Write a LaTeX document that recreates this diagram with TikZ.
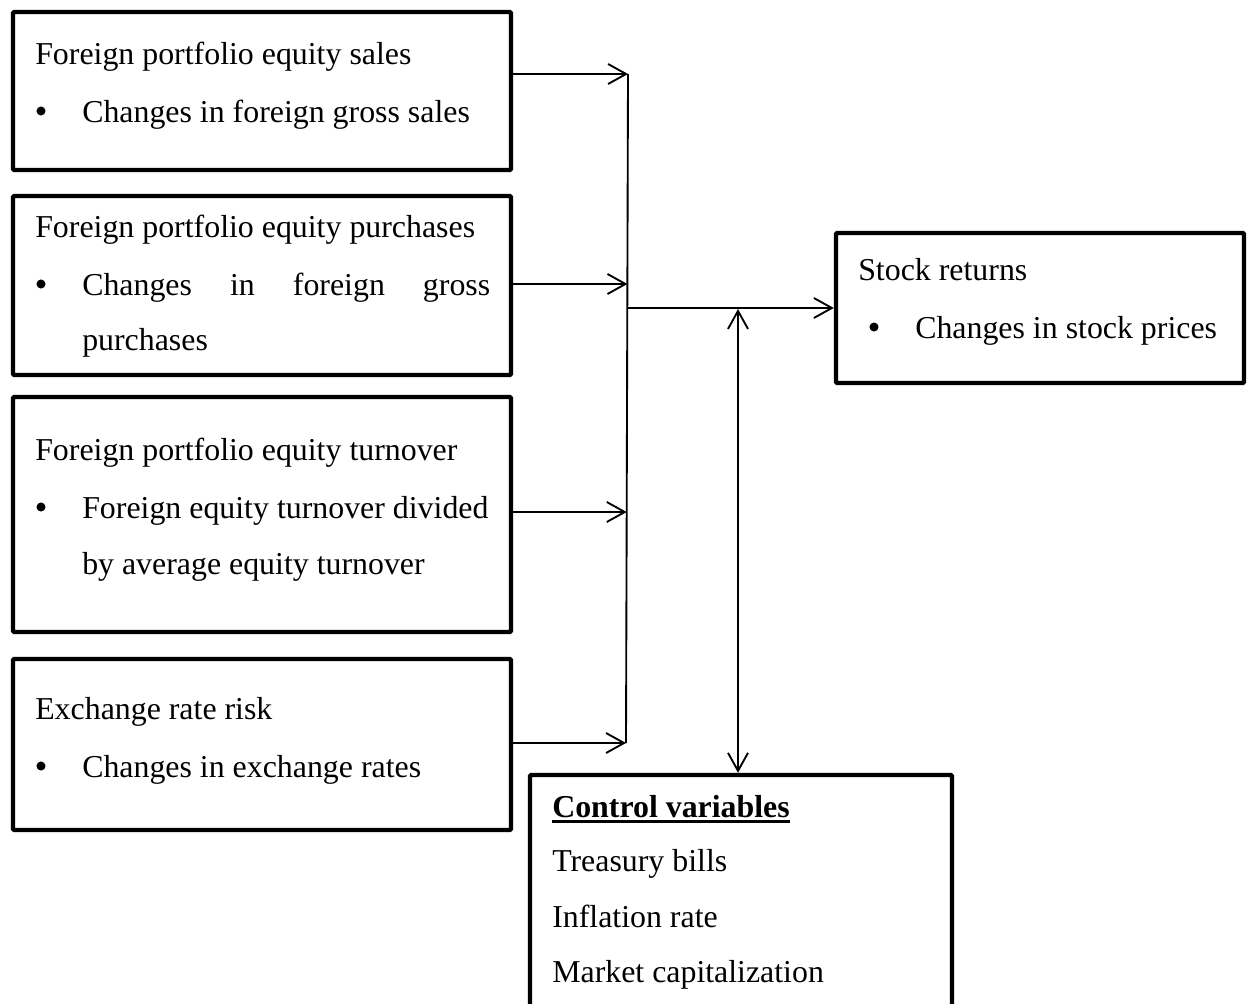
\documentclass[tikz,border=0pt]{standalone}
\usepackage{fontspec}
\setmainfont{Liberation Serif}
\usetikzlibrary{arrows.meta,fit}
\newcommand\ctlul[1]{\setbox0\hbox{#1}\rlap{\rule[-4.2pt]{\wd0}{1.6pt}}\box0}
\tikzset{
  box/.style={draw, line width=3.3pt, rounded corners=1pt, inner sep=0pt, rectangle},
  txt/.style={anchor=base west, inner sep=0pt, font=\fontsize{23.9}{43.5}\selectfont},
  bul/.style={circle, fill, inner sep=0pt, minimum size=6.8pt},
  conn/.style={line width=1.4pt},
  arr/.style={line width=1.4pt, -{Straight Barb[length=13.5pt,width=15pt,line width=1.4pt]}},
  darr/.style={line width=1.4pt, {Straight Barb[length=13.5pt,width=15pt,line width=1.4pt]}-{Straight Barb[length=13.5pt,width=15pt,line width=1.4pt]}}
}
\begin{document}
\begin{tikzpicture}[x=0.75pt,y=-0.75pt]
\useasboundingbox (0,0) rectangle (1248,1003);
% boxes
\node[box, fit={(13,12) (511,170)}] (b1) {};
\node[box, fit={(13,196) (511,375)}] (b2) {};
\node[box, fit={(13,397) (511,632)}] (b3) {};
\node[box, fit={(13,659) (511,830)}] (b4) {};
\node[box, fit={(836,233) (1244,383)}] (sr) {};
\node[box, fit={(530,775) (952,1015)}] (cv) {};
% texts box 1
\node[txt] (t11) at (35,64) {Foreign portfolio equity sales};
\node[bul] (u12) at (41,111) {};
\node[txt] (t12) at (82,122) {Changes in foreign gross sales};
% box 2
\node[txt] (t21) at (35,237) {Foreign portfolio equity purchases};
\node[bul] (u22) at (41,284) {};
\node[txt] (t22) at (82,295) {\makebox[306pt][s]{Changes\hfill in\hfill foreign\hfill gross}};
\node[txt] (t23) at (82,350) {purchases};
% box 3
\node[txt] (t31) at (35,460) {Foreign portfolio equity turnover};
\node[bul] (u32) at (41,507) {};
\node[txt] (t32) at (82,518) {Foreign equity turnover divided};
\node[txt] (t33) at (82,574) {by average equity turnover};
% box 4
\node[txt] (t41) at (35,719) {Exchange rate risk};
\node[bul] (u42) at (41,766) {};
\node[txt] (t42) at (82,777) {Changes in exchange rates};
% stock returns
\node[txt] (s1) at (858,280) {Stock returns};
\node[bul] (us2) at (874,327) {};
\node[txt] (s2) at (915,338) {Changes in stock prices};
% control variables
\node[txt] (c1) at (552,817) {\ctlul{\bfseries Control variables}};
\node[txt] (c2) at (552,871) {Treasury bills};
\node[txt] (c3) at (552,927) {Inflation rate};
\node[txt] (c4) at (552,982) {Market capitalization};
% junction line
\coordinate (v1) at (628,74);
\coordinate (v2) at (627.4,284);
\coordinate (vm) at (627.3,308);
\coordinate (v3) at (626.7,512);
\coordinate (v4) at (626,743);
\draw[conn] (v1) -- (v4);
\draw[arr] (b1.east |- v1) -- (v1);
\draw[arr] (b2.east |- v2) -- (v2);
\draw[arr] (b3.east |- v3) -- (v3);
\draw[arr] (b4.east |- v4) -- (v4);
\draw[arr] (vm) -- (sr.west |- vm);
\coordinate (dtop) at (738,309);
\draw[darr] (dtop) -- (cv.north -| dtop);
\end{tikzpicture}
\end{document}
